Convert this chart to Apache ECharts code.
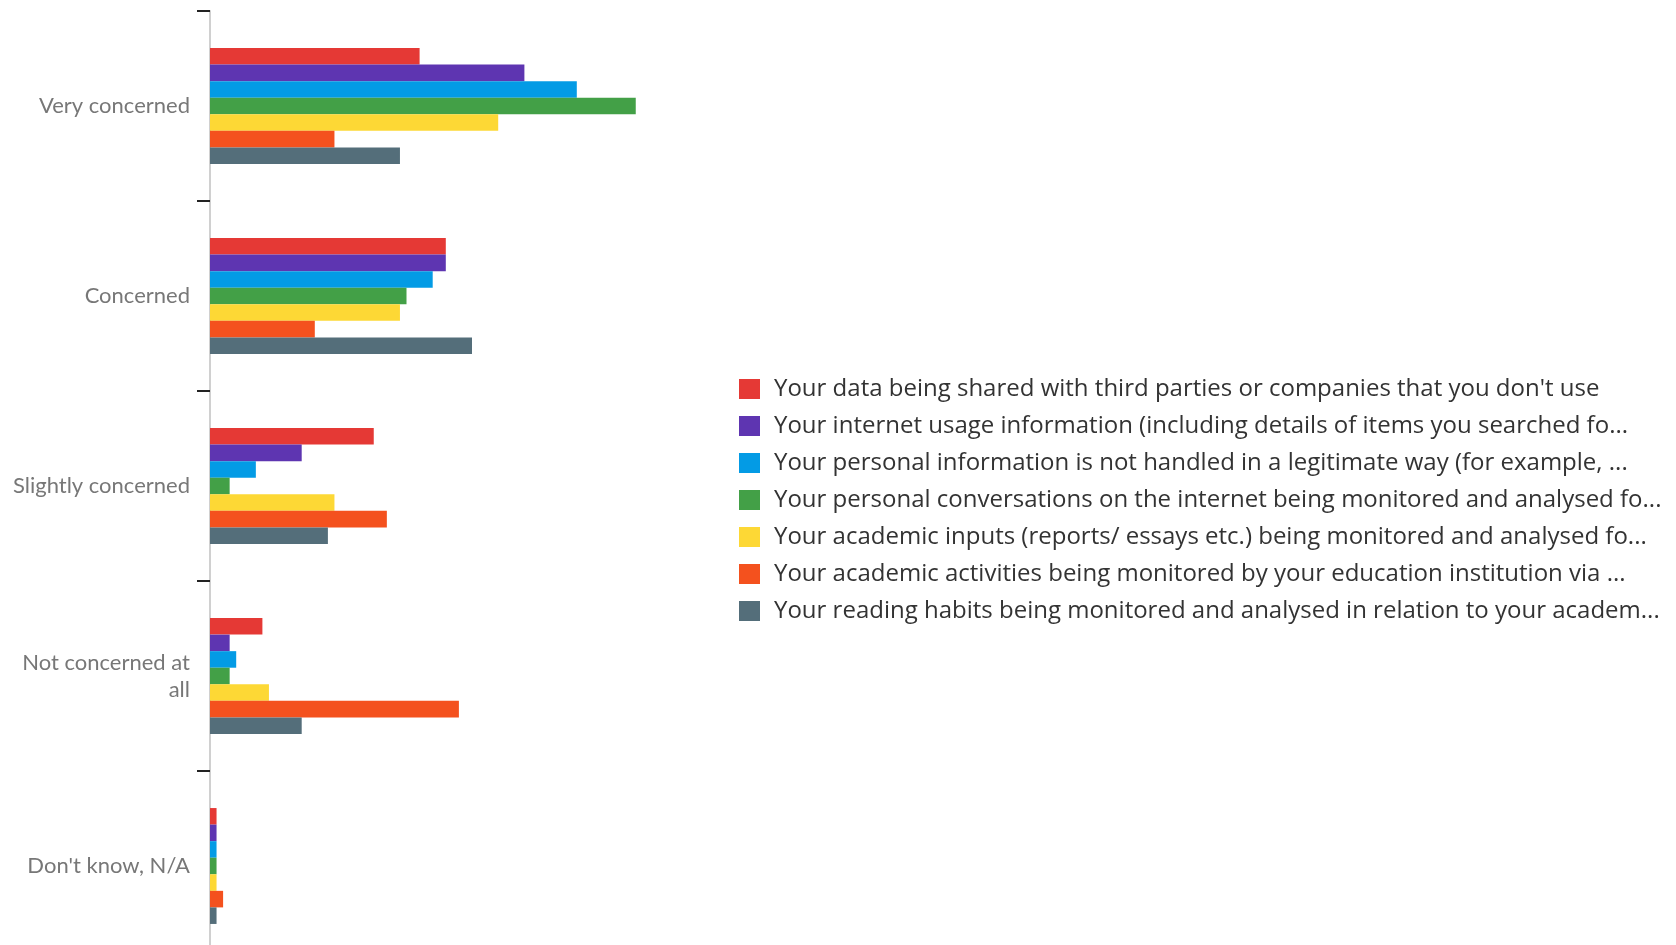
<!DOCTYPE html>
<html>
<head>
<meta charset="utf-8">
<script src="https://cdn.jsdelivr.net/npm/echarts@6/dist/echarts.min.js"></script>
<style>
	html, body { margin: 0; padding: 0; background: #fff; }
	#chart { width: 1676px; height: 945px; }
</style>
</head>
<body>
<div id="chart"></div>
<script>
// answer categories, top to bottom
let answers = ['Very concerned', 'Concerned', 'Slightly concerned', 'Not concerned at all', "Don't know, N/A"];

// legend texts as truncated in the original
let names = [
	"Your data being shared with third parties or companies that you don't use",
	'Your internet usage information (including details of items you searched fo...',
	'Your personal information is not handled in a legitimate way (for example, ...',
	'Your personal conversations on the internet being monitored and analysed fo...',
	'Your academic inputs (reports/ essays etc.) being monitored and analysed fo...',
	'Your academic activities being monitored by your education institution via ...',
	'Your reading habits being monitored and analysed in relation to your academ...'
];

// counts per answer, one array per statement
let dataShared = [32, 36, 25, 8, 1];
let internetUsage = [48, 36, 14, 3, 1];
let personalInfo = [56, 34, 7, 4, 1];
let conversations = [65, 30, 3, 3, 1];
let academicInputs = [44, 29, 19, 9, 1];
let academicActivities = [19, 16, 27, 38, 2];
let readingHabits = [29, 40, 18, 14, 1];

let colors = ['#e53935', '#5e35b1', '#039be5', '#43a047', '#fdd835', '#f4511e', '#546e7a'];

let values = [dataShared, internetUsage, personalInfo, conversations, academicInputs, academicActivities, readingHabits];

// long labels get their last word pushed to a second line
function wrapLabel(txt) {
	if (txt.length <= 18) return txt;
	let cut = txt.lastIndexOf(' ');
	return txt.slice(0, cut) + '\n' + txt.slice(cut + 1);
}

let chart = echarts.init(document.getElementById('chart'));
let series = [];
for (let i = 0; i < values.length; i++) {
	series.push({
		name: names[i],
		type: 'bar',
		data: values[i],
		itemStyle: { color: colors[i] },
		barGap: 0,
		barCategoryGap: '39%'
	});
}
chart.setOption({
	animation: false,
	color: colors,
	grid: {
		left: 210,
		top: 11,
		width: 458.5,
		height: 950,
		outerBoundsMode: 'none',
		containLabel: false
	},
	xAxis: {
		type: 'value',
		min: 0,
		max: 70,
		show: false
	},
	yAxis: {
		type: 'category',
		inverse: true,
		data: answers,
		axisLine: { show: true, lineStyle: { color: '#d0d0d0', width: 2 } },
		axisTick: { show: true, length: 13, lineStyle: { color: '#222', width: 2 } },
		axisLabel: {
			margin: 20,
			color: '#777',
			fontSize: 22,
			fontFamily: 'Lato, sans-serif',
			lineHeight: 27,
			formatter: wrapLabel
		}
	},
	legend: {
		orient: 'vertical',
		left: 734,
		top: 372,
		icon: 'rect',
		itemWidth: 21,
		itemHeight: 20,
		itemGap: 13,
		selectedMode: false,
		textStyle: {
			fontSize: 24,
			color: '#333',
			fontFamily: "'Open Sans', sans-serif",
			padding: [0, 0, 0, 9]
		}
	},
	series: series
});
</script>
</body>
</html>
